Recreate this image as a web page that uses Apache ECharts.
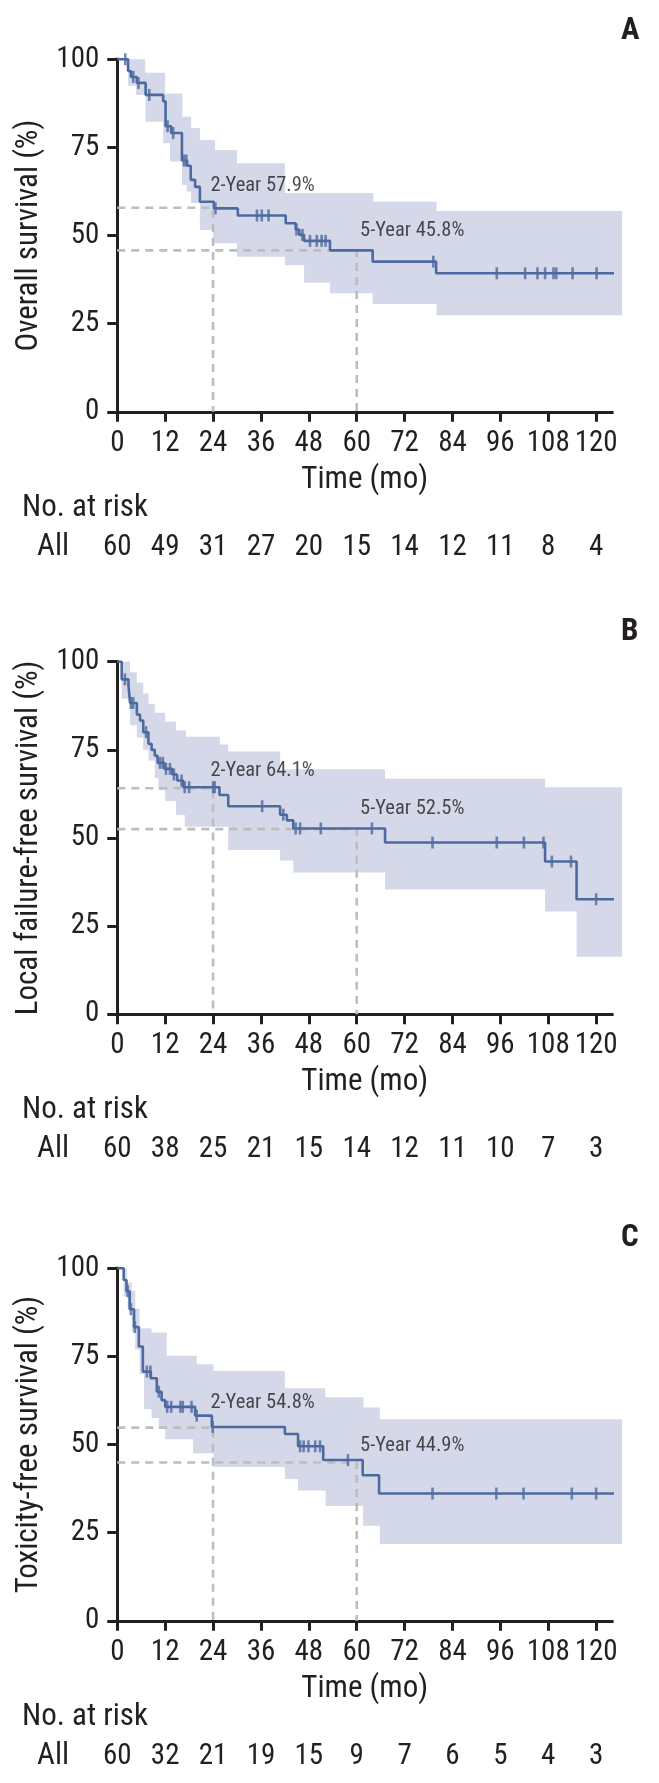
<!DOCTYPE html>
<html><head><meta charset="utf-8">
<script src="https://cdn.jsdelivr.net/npm/echarts@6/dist/echarts.min.js"></script>
<style>html,body{margin:0;padding:0;background:#fff}#chart{width:659px;height:1783px}</style>
</head><body><div id="chart"></div>
<script>
// ---------------- data ----------------
const END_TIME = 126.5;
const xTicks = [0, 12, 24, 36, 48, 60, 72, 84, 96, 108, 120];
const yTitles = ['Overall survival (%)', 'Local failure-free survival (%)', 'Toxicity-free survival (%)'];
const panelLetters = ['A', 'B', 'C'];
const riskGroup = 'All';
const landmarkTimes = [24, 60];
const landmarkA = [57.9, 45.8];
const landmarkB = [64.1, 52.5];
const landmarkC = [54.8, 44.9];
const riskA = [60, 49, 31, 27, 20, 15, 14, 12, 11, 8, 4];
const riskB = [60, 38, 25, 21, 15, 14, 12, 11, 10, 7, 3];
const riskC = [60, 32, 21, 19, 15, 9, 7, 6, 5, 4, 3];

// Panel A: overall survival
const timeA = [0, 2.7, 3.4, 4.9, 7.1, 11.5, 12.1, 13.5, 16.2, 17.5, 18.4, 19.5, 20.7, 24.2, 30.2, 42.2, 44.7, 45.6, 46.8, 53.3, 64.0, 79.9];
const survA = [100, 96.7, 95.0, 93.3, 89.9, 88.1, 81.0, 79.1, 71.3, 69.8, 65.8, 63.8, 59.6, 57.7, 55.7, 53.5, 51.7, 50.2, 48.5, 45.8, 42.6, 39.3];
const censorA = [2.0, 4.0, 5.3, 8.0, 12.6, 14.0, 16.7, 17.3, 24.6, 35.0, 36.2, 37.9, 44.9, 46.4, 48.3, 50.0, 51.2, 52.2, 79.2, 95.1, 102.2, 105.3, 107.2, 109.3, 110.0, 114.1, 120.1];
const upperTimeA = [0, 7.0, 12.0, 16.3, 18.5, 20.7, 24.5, 30.0, 42.0, 64.2, 80.0];
const upperA = [100, 96.2, 90.3, 83.7, 80.5, 77.1, 74.3, 70.5, 62.1, 59.6, 57.0];
const lowerTimeA = [0, 2.7, 4.7, 7.1, 11.5, 13.2, 16.2, 17.4, 18.5, 20.7, 24.0, 30.0, 42.0, 46.8, 53.3, 64.0, 80.0];
const lowerA = [100, 92.5, 89.9, 82.3, 76.2, 71.0, 64.4, 62.5, 59.2, 51.6, 47.8, 44.0, 41.6, 36.6, 33.6, 30.6, 27.4];

// Panel B: local failure-free survival
const timeB = [0, 1.1, 2.8, 3.2, 4.9, 5.7, 6.5, 7.8, 8.6, 9.4, 10.1, 11.8, 13.8, 15.0, 16.5, 25.6, 27.8, 40.8, 42.5, 44.1, 67.1, 107.2, 115.1];
const survB = [100, 95.0, 93.3, 88.3, 85.0, 83.3, 80.0, 76.7, 75.0, 73.3, 71.3, 69.6, 68.0, 66.3, 64.4, 62.2, 59.0, 56.6, 55.0, 52.7, 48.7, 43.3, 32.6];
const censorB = [1.9, 3.4, 4.0, 7.2, 10.7, 11.4, 12.2, 13.2, 14.2, 16.1, 16.9, 18.0, 24.0, 24.4, 36.3, 41.6, 44.7, 45.8, 51.0, 63.8, 79.0, 95.1, 101.9, 106.8, 108.9, 113.7, 120.0];
const upperTimeB = [0, 3.2, 4.9, 6.5, 7.8, 9.4, 12.0, 14.7, 17.2, 25.7, 27.8, 40.8, 67.1, 107.2];
const upperB = [100, 97.0, 94.0, 91.0, 88.0, 85.5, 83.0, 80.5, 78.7, 76.5, 74.5, 69.5, 66.8, 64.4];
const lowerTimeB = [0, 1.1, 3.2, 4.9, 6.5, 7.8, 9.4, 10.3, 12.0, 14.7, 16.9, 27.8, 40.8, 44.1, 67.1, 107.2, 115.1];
const lowerB = [100, 89.5, 82.0, 78.5, 75.0, 72.0, 67.0, 63.6, 60.5, 56.5, 53.2, 46.6, 43.6, 40.2, 35.4, 29.1, 16.3];

// Panel C: toxicity-free survival
const timeC = [0, 1.6, 2.3, 3.1, 4.2, 5.4, 6.4, 8.4, 9.9, 11.1, 12.0, 19.5, 23.7, 42.0, 45.3, 51.6, 61.5, 65.6];
const survC = [100, 96.7, 93.5, 88.4, 83.3, 77.8, 70.7, 68.8, 65.0, 62.6, 60.7, 58.2, 55.0, 53.0, 49.5, 45.6, 41.3, 36.1];
const censorC = [2.6, 3.4, 4.4, 7.4, 8.3, 10.4, 12.5, 13.5, 15.8, 16.4, 18.6, 19.9, 23.9, 45.8, 46.7, 47.9, 49.6, 50.8, 57.8, 79.0, 95.0, 101.8, 113.9, 120.0];
const upperTimeC = [0, 2.4, 3.6, 4.5, 5.6, 8.6, 12.4, 19.9, 24.1, 42.0, 52.1, 61.7, 65.8];
const upperC = [100, 96.0, 93.6, 88.5, 83.0, 81.8, 75.2, 72.8, 70.9, 66.0, 63.4, 60.5, 57.2];
const lowerTimeC = [0, 1.6, 2.6, 3.6, 4.5, 5.6, 6.7, 8.6, 10.4, 12.0, 19.0, 24.1, 42.0, 45.3, 52.2, 61.6, 65.8];
const lowerC = [100, 92.0, 88.5, 82.0, 77.0, 70.0, 60.0, 57.5, 54.5, 51.5, 47.5, 43.6, 40.2, 37.0, 32.6, 27.0, 21.8];

// ---------------- style / layout ----------------
const FONT = '"Roboto Condensed", "Liberation Sans", sans-serif';
const INK = '#231f20', LINE = '#4d6aa0', BAND = '#d5d8e8', DASH = '#bdbdbd';
const GRID_LEFT = 117.3, GRID_W = 494.8, GRID_H = 352.5;
const PANEL_TOPS = [59.3, 661.7, 1268.3];
const LETTER_TOPS = [16, 617, 1223];
const X_MAX = 124;

const panels = [
  {t: timeA, s: survA, ut: upperTimeA, u: upperA, lt: lowerTimeA, l: lowerA, c: censorA, land: landmarkA, risk: riskA,
   labelPos: [[23.2, 64.0], [60.7, 51.3]]},
  {t: timeB, s: survB, ut: upperTimeB, u: upperB, lt: lowerTimeB, l: lowerB, c: censorB, land: landmarkB, risk: riskB,
   labelPos: [[23.2, 69.1], [60.7, 58.2]]},
  {t: timeC, s: survC, ut: upperTimeC, u: upperC, lt: lowerTimeC, l: lowerC, c: censorC, land: landmarkC, risk: riskC,
   labelPos: [[23.2, 61.9], [60.7, 49.7]]}
];

function stepPoints(times, vals) {
  const pts = [[times[0], vals[0]]];
  for (let i = 1; i < times.length; i++) {
    pts.push([times[i], vals[i - 1]]);
    pts.push([times[i], vals[i]]);
  }
  pts.push([END_TIME, vals[vals.length - 1]]);
  return pts;
}
function valueAt(times, vals, x) {
  let v = vals[0];
  for (let i = 0; i < times.length; i++) if (times[i] <= x) v = vals[i];
  return v;
}

const grids = [], xAxes = [], yAxes = [], series = [], titles = [];
const axisLineStyle = {color: INK, width: 3, cap: 'square'};

panels.forEach((p, i) => {
  const top = PANEL_TOPS[i];
  const bottom = top + GRID_H;
  grids.push({left: GRID_LEFT, top: top, width: GRID_W, height: GRID_H, containLabel: false, outerBoundsMode: 'none'});
  xAxes.push({
    type: 'value', gridIndex: i, min: 0, max: X_MAX, position: 'bottom',
    axisLine: {show: true, onZero: false, lineStyle: axisLineStyle},
    axisTick: {show: true, length: 10, lineStyle: {color: INK, width: 3}, customValues: xTicks},
    axisLabel: {customValues: xTicks, hideOverlap: false, fontSize: 29, fontFamily: FONT, color: INK, margin: 31.6, verticalAlign: 'middle'},
    splitLine: {show: false},
    name: 'Time (mo)', nameLocation: 'middle', nameGap: 68, nameMoveOverlap: false,
    nameTextStyle: {fontSize: 31, fontFamily: FONT, color: INK, verticalAlign: 'middle'}
  });
  xAxes.push({
    type: 'value', gridIndex: i, min: 0, max: X_MAX, position: 'bottom', offset: 136,
    axisLine: {show: false}, axisTick: {show: false}, splitLine: {show: false},
    axisLabel: {customValues: xTicks, hideOverlap: false, formatter: v => String(p.risk[xTicks.indexOf(v)]),
      fontSize: 29, fontFamily: FONT, color: INK, margin: 0, verticalAlign: 'middle'}
  });
  yAxes.push({
    type: 'value', gridIndex: i, min: 0, max: 100, interval: 25,
    axisLine: {show: true, onZero: false, lineStyle: axisLineStyle},
    axisTick: {show: true, length: 10, lineStyle: {color: INK, width: 3}},
    axisLabel: {fontSize: 29, fontFamily: FONT, color: INK, margin: 18},
    splitLine: {show: false},
    name: yTitles[i], nameLocation: 'middle', nameGap: 88, nameMoveOverlap: false,
    nameTextStyle: {fontSize: 31, fontFamily: FONT, color: INK, verticalAlign: 'middle'}
  });

  const xi = 2 * i;
  // confidence band
  const poly = stepPoints(p.ut, p.u).concat(stepPoints(p.lt, p.l).reverse());
  series.push({
    type: 'custom', xAxisIndex: xi, yAxisIndex: i, clip: false, silent: true, z: 1,
    data: [[0, 0]],
    renderItem: (params, api) => ({
      type: 'polygon', shape: {points: poly.map(pt => api.coord(pt))}, style: {fill: BAND}
    })
  });
  // landmark dashed guides
  landmarkTimes.forEach((lt, k) => {
    series.push({
      type: 'line', xAxisIndex: xi, yAxisIndex: i, z: 2, silent: true, showSymbol: false,
      data: [[0, p.land[k]], [lt, p.land[k]], [lt, 0]],
      lineStyle: {color: DASH, width: 2.6, type: [8, 6]}
    });
  });
  // KM curve
  const curve = p.t.map((t, k) => [t, p.s[k]]);
  curve.push([END_TIME, p.s[p.s.length - 1]]);
  series.push({
    type: 'line', xAxisIndex: xi, yAxisIndex: i, z: 3, step: 'end', clip: false, silent: true,
    showSymbol: false, data: curve, lineStyle: {color: LINE, width: 2.6}
  });
  // censor marks
  series.push({
    type: 'scatter', xAxisIndex: xi, yAxisIndex: i, z: 4, clip: false, silent: true,
    symbol: 'rect', symbolSize: [2.6, 12], itemStyle: {color: LINE},
    data: p.c.map(ct => [ct, valueAt(p.t, p.s, ct)])
  });
  // landmark annotations
  series.push({
    type: 'scatter', xAxisIndex: xi, yAxisIndex: i, z: 5, silent: true,
    symbolSize: 1, itemStyle: {color: 'rgba(0,0,0,0)'},
    data: landmarkTimes.map((lt, k) => ({
      value: p.labelPos[k],
      label: {show: true, position: 'right', distance: 0,
        formatter: (lt / 12) + '-Year ' + p.land[k].toFixed(1) + '%',
        fontSize: 20.5, fontFamily: FONT, color: INK}
    }))
  });

  titles.push({text: 'No. at risk', left: 22, top: bottom + 81, padding: 0,
    textStyle: {fontSize: 31, fontWeight: 'normal', fontFamily: FONT, color: INK}});
  titles.push({text: riskGroup, left: 37, top: bottom + 120, padding: 0,
    textStyle: {fontSize: 31, fontWeight: 'normal', fontFamily: FONT, color: INK}});
  titles.push({text: panelLetters[i], left: 621, top: LETTER_TOPS[i], padding: 0,
    textStyle: {fontSize: 31, fontWeight: 'bold', fontFamily: FONT, color: INK}});
});

const chart = echarts.init(document.getElementById('chart'), null, {renderer: 'canvas', width: 659, height: 1783});
chart.setOption({
  animation: false,
  backgroundColor: '#ffffff',
  title: titles,
  grid: grids,
  xAxis: xAxes,
  yAxis: yAxes,
  series: series
});
</script>
</body></html>
